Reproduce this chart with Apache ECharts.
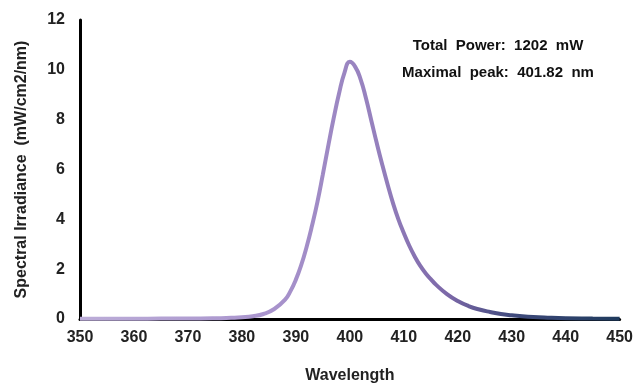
<!DOCTYPE html>
<html>
<head>
<meta charset="utf-8">
<script src="https://cdn.jsdelivr.net/npm/echarts@6/dist/echarts.min.js"></script>
<style>
  html, body { margin: 0; padding: 0; background: #fff; }
  #main { width: 636px; height: 389px; }
</style>
</head>
<body>
<div id="main"></div>
<script>
// wavelength (nm) and spectral irradiance (mW/cm2/nm)
const wavelengths = [350, 355, 360, 365, 370, 375, 378, 380, 382, 384, 386, 388, 389, 390, 391, 392, 393,
  394, 395, 396, 397, 398, 399, 400, 401, 402, 403, 404, 405, 406, 407, 408, 409, 410, 411, 412,
  413, 414, 415, 416, 418, 420, 422, 424, 426, 428, 430, 433, 436, 440, 445, 450];
const irradiance = [0.01, 0.01, 0.01, 0.02, 0.02, 0.03, 0.05, 0.07, 0.11, 0.2, 0.4, 0.78, 1.12, 1.58, 2.17, 2.9, 3.75,
  4.7, 5.8, 6.95, 8.05, 9.05, 9.88, 10.32, 10.12, 9.62, 8.85, 7.95, 7.05, 6.2, 5.4, 4.65, 4.0, 3.45, 2.95, 2.52,
  2.15, 1.85, 1.6, 1.37, 1.0, 0.72, 0.52, 0.38, 0.28, 0.2, 0.15, 0.09, 0.06, 0.03, 0.02, 0.01];
const infoLines = ['Total  Power:  1202  mW', 'Maximal  peak:  401.82  nm'];

const chart = echarts.init(document.getElementById('main'));
const font = '"Liberation Sans", Arial, sans-serif';

const option = {
  animation: false,
  grid: { left: 80, right: 16, top: 20, bottom: 65 },
  xAxis: {
    type: 'value',
    min: 350,
    max: 450,
    interval: 10,
    name: 'Wavelength',
    nameLocation: 'middle',
    nameGap: 49,
    nameTextStyle: { fontFamily: font, fontWeight: 'bold', fontSize: 16, color: '#222' },
    axisLine: { lineStyle: { color: '#000', width: 3 } },
    axisTick: { show: false },
    splitLine: { show: false },
    axisLabel: { fontFamily: font, fontWeight: 'bold', fontSize: 16, color: '#222', margin: 11 }
  },
  yAxis: {
    type: 'value',
    min: 0,
    max: 12,
    interval: 2,
    name: 'Spectral Irradiance  (mW/cm2/nm)',
    nameLocation: 'middle',
    nameGap: 50,
    nameTextStyle: { fontFamily: font, fontWeight: 'bold', fontSize: 16, color: '#222' },
    axisLine: { show: true, lineStyle: { color: '#000', width: 3 } },
    axisTick: { show: false },
    splitLine: { show: false },
    axisLabel: { fontFamily: font, fontWeight: 'bold', fontSize: 16, color: '#222', margin: 15 }
  },
  series: [{
    type: 'line',
    data: wavelengths.map((w, i) => [w, irradiance[i]]),
    smooth: true,
    showSymbol: false,
    lineStyle: {
      width: 4,
      color: new echarts.graphic.LinearGradient(0, 0, 1, 0, [
        { offset: 0, color: '#bcadd8' },
        { offset: 0.35, color: '#a994cd' },
        { offset: 0.55, color: '#9580bd' },
        { offset: 0.68, color: '#7c68a8' },
        { offset: 0.8, color: '#3f4a7c' },
        { offset: 1, color: '#1e3a5c' }
      ])
    },
    z: 3
  }],
  graphic: infoLines.map((t, i) => ({
    type: 'text',
    x: 498,
    y: 38 + i * 27,
    style: { text: t, fontFamily: font, fontWeight: 'bold', fontSize: 15, fill: '#111', textAlign: 'center' }
  }))
};

chart.setOption(option);
</script>
</body>
</html>
